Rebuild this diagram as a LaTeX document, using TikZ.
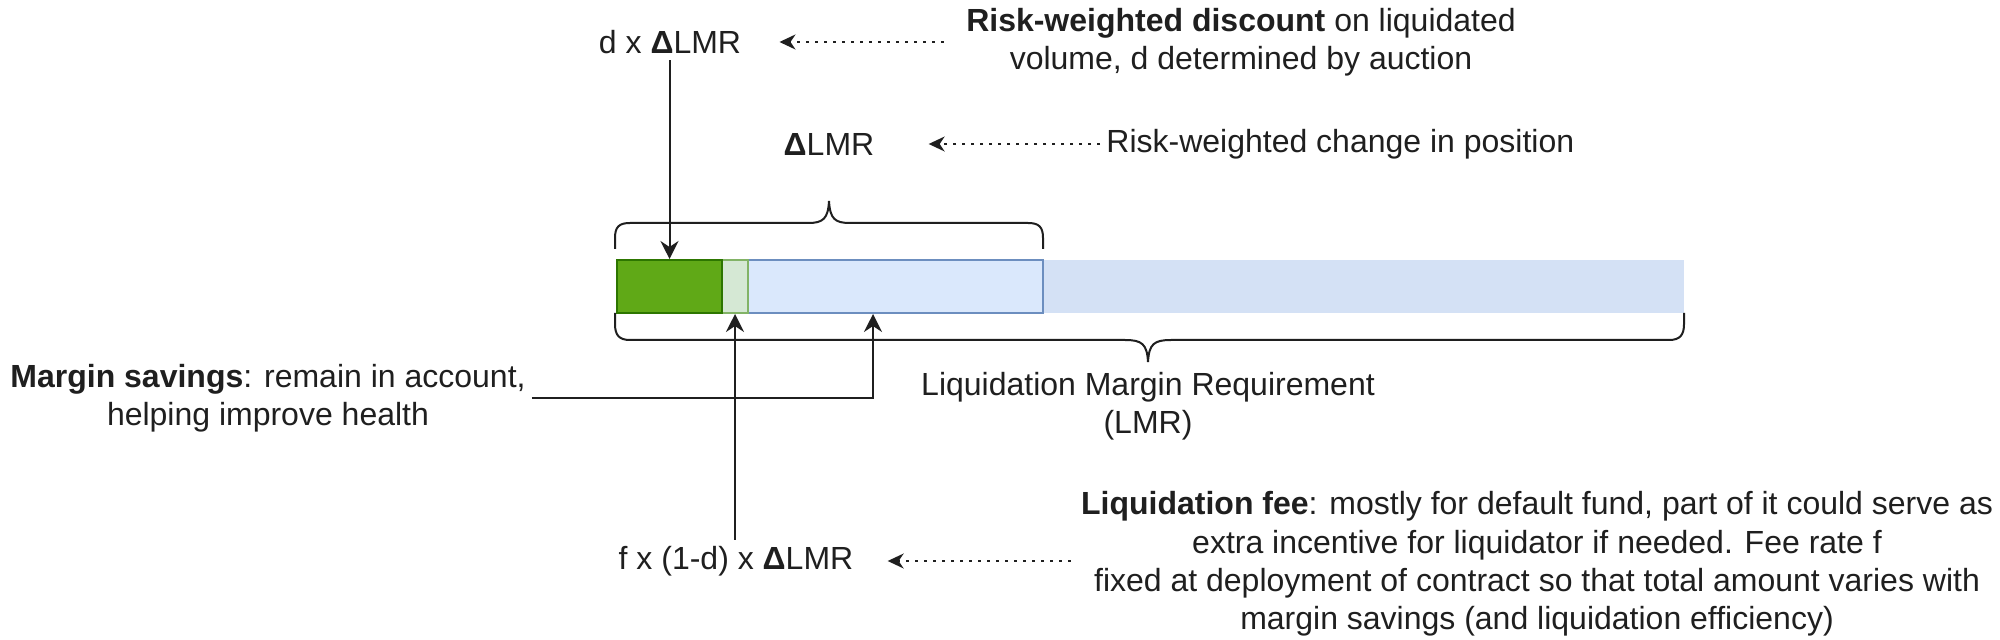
\documentclass[tikz,border=0pt]{standalone}
\usepackage{fontspec}
\setmainfont{Liberation Sans}
\usetikzlibrary{arrows.meta,calc}
\definecolor{dkgreen}{HTML}{60A917}
\definecolor{dkgreenb}{HTML}{2D7600}
\definecolor{ltgreen}{HTML}{D5E8D4}
\definecolor{ltgreenb}{HTML}{82B366}
\definecolor{ltblue}{HTML}{DAE8FC}
\definecolor{ltblueb}{HTML}{6C8EBF}
\definecolor{ltblue2}{HTML}{D4E1F5}
\definecolor{txt}{HTML}{1F1F1F}
\begin{document}
\begin{tikzpicture}[x=0.5pt,y=-0.5pt,
  lbl/.style={font=\fontsize{16pt}{19.2pt}\selectfont, text=txt, align=center, inner sep=3pt},
  barbox/.style={inner sep=0pt, minimum height=26.5pt, line width=1pt},
  solidarr/.style={draw=txt, line width=1pt, -{Stealth[length=9pt,width=9pt,inset=3pt]}},
  dotarr/.style={draw=txt, line width=0.8pt, dash pattern=on 1.5pt off 3pt, -{Stealth[length=8pt,width=7.5pt,inset=2.5pt]}},
  bracepath/.style={draw=txt, line width=1pt}]
\useasboundingbox (0,0) rectangle (2000,640);
\fill[white] (0,0) rectangle (2000,640);

% bar segments
\node[barbox, fill=ltblue2, minimum width=320.5pt] (bar4) at (1363.5,286.5) {};
\node[barbox, fill=ltblue, draw=ltblueb, minimum width=147.5pt] (bar3) at (895.5,286.5) {};
\node[barbox, fill=ltgreen, draw=ltgreenb, minimum width=13pt] (bar2) at (735,286.5) {};
\node[barbox, fill=dkgreen, draw=dkgreenb, minimum width=52.5pt] (bar1) at (669.5,286.5) {};

% braces
\draw[bracepath] (615,249) -- (615,238) .. controls (615,227) and (619,223) .. (630,223) -- (808,223) .. controls (823,223) and (828,219) .. (829,201) .. controls (830,219) and (835,223) .. (850,223) -- (1028,223) .. controls (1039,223) and (1043,227) .. (1043,238) -- (1043,249);
\draw[bracepath] (615,313) -- (615,324) .. controls (615,335) and (619,340) .. (630,340) -- (1125,340) .. controls (1142,340) and (1147,344) .. (1148,362) .. controls (1149,344) and (1154,340) .. (1171,340) -- (1669,340) .. controls (1680,340) and (1684,335) .. (1684,324) -- (1684,313);

% labels
\node[lbl] (dlmr) at (670,42) {d x \textbf{Δ}LMR};
\node[lbl] (rwd) at (1241,42) {\textbf{Risk-weighted discount} on liquidated\\volume, d determined by auction};
\node[lbl] (delta) at (829,144) {\textbf{Δ}LMR};
\node[lbl, anchor=west] (rwc) at (1100,144) {Risk-weighted change in position};
\node[lbl] (lmr) at (1148,406) {Liquidation Margin Requirement\\(LMR)};
\node[lbl] (ms) at (268,398) {\textbf{Margin savings}: remain in account,\\helping improve health};
\node[lbl] (fx) at (736,561) {f x (1-d) x \textbf{Δ}LMR};
\node[lbl] (lf) at (1537,564) {\textbf{Liquidation fee}: mostly for default fund, part of it could serve as\\extra incentive for liquidator if needed. Fee rate f\\fixed at deployment of contract so that total amount varies with\\margin savings (and liquidation efficiency)};

% connectors
\draw[solidarr] (dlmr.south -| bar1.north) -- (bar1.north);
\draw[solidarr] (fx.north -| bar2.south) -- (bar2.south);
\coordinate (mstar) at ($(bar3.south west)+(126,0)$);
\draw[solidarr] (ms.east) -| (mstar);

\draw[dotarr, shorten <=8pt, shorten >=16pt] (rwd.west |- dlmr.east) -- (dlmr.east);
\draw[dotarr, shorten >=24pt] (rwc.west) -- (delta.east);
\draw[dotarr, shorten <=2pt, shorten >=14pt] (lf.west |- fx.east) -- (fx.east);
\end{tikzpicture}
\end{document}
